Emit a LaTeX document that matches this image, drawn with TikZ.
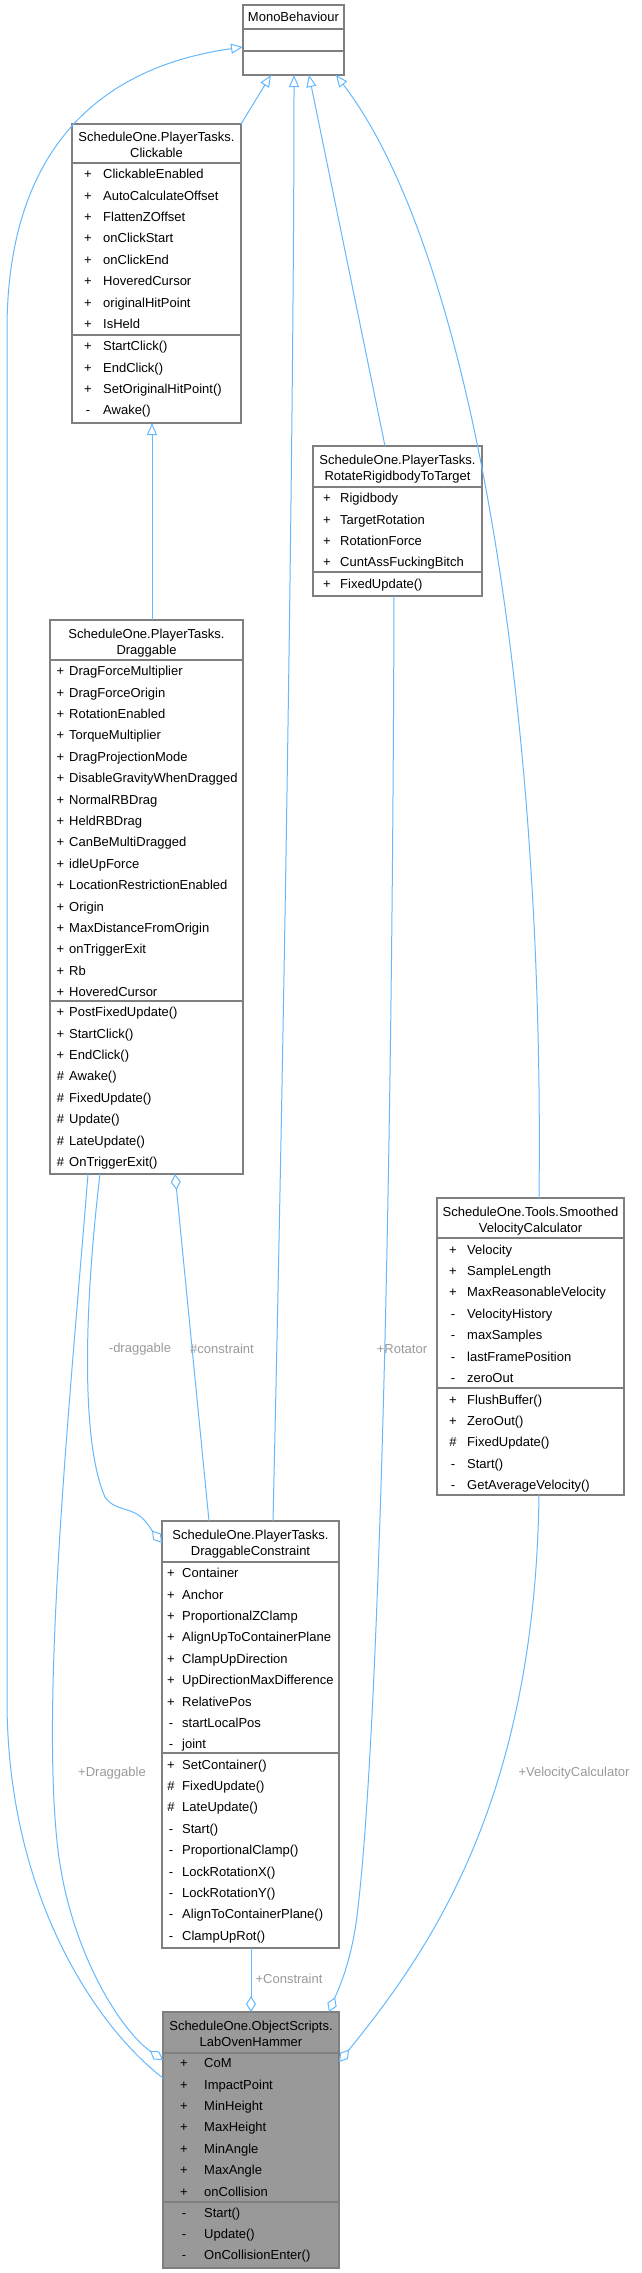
\documentclass[tikz,border=0pt]{standalone}
\usepackage{fontspec}
\setmainfont{Liberation Sans}
\usetikzlibrary{arrows.meta,calc}
\definecolor{edgec}{HTML}{63B8FF}
\definecolor{bord}{HTML}{7F7F7F}
\definecolor{hamfill}{HTML}{999999}
\definecolor{lblc}{HTML}{9A9A9A}
\newcommand\classrows[5]{%
  \foreach \s/\n [count=\i from 0] in {#5} {
    \node[symtxt] (#1s\i) at (#2, {#4+\i*21.4}) {\s};
    \node[nmtxt] (#1n\i) at (#3, {#4+\i*21.4}) {\n};
  }}
\begin{document}
\begin{tikzpicture}[x=1pt,y=-1pt,
  font=\fontsize{13}{16}\selectfont,
  cls/.style={draw=bord, line width=1.3pt, fill=white, inner sep=0pt, outer sep=0pt, anchor=north west},
  divline/.style={draw=bord, line width=1.3pt},
  symtxt/.style={inner sep=0pt, anchor=center, text height=9.3pt, text depth=0pt},
  nmtxt/.style={inner sep=0pt, anchor=west, text height=9.3pt, text depth=0pt},
  ttl/.style={inner sep=0pt, anchor=center, text height=9.3pt, text depth=0pt},
  edge/.style={draw=edgec, line width=1pt},
  inh/.style={edge, -{Triangle[open,length=12pt,width=10pt]}},
  agg/.style={edge, -{Diamond[open,length=16pt,width=10pt]}},
  lbl/.style={text=lblc, inner sep=0pt, text height=9.3pt, text depth=0pt}]
\useasboundingbox (0,0) rectangle (641,2273);

% MonoBehaviour
\node[cls, minimum width=101pt, minimum height=70pt] (mono) at (243,5) {};
\draw[divline] (243,29) -- (344,29);
\draw[divline] (243,51) -- (344,51);
\node[ttl] (monoT) at (293.5,17) {MonoBehaviour};

% Clickable
\node[cls, minimum width=169pt, minimum height=299pt] (click) at (72,124) {};
\draw[divline] (72,163) -- (241,163);
\draw[divline] (72,335) -- (241,335);
\node[ttl] (clickT1) at (156.5,137) {ScheduleOne.PlayerTasks.};
\node[ttl] (clickT2) at (156.5,153) {Clickable};
\classrows{clA}{88}{103}{174}{+/ClickableEnabled,+/AutoCalculateOffset,+/FlattenZOffset,+/onClickStart,+/onClickEnd,+/HoveredCursor,+/originalHitPoint,+/IsHeld}
\classrows{clM}{88}{103}{346}{+/StartClick(),+/EndClick(),+/SetOriginalHitPoint(),-/Awake()}

% RotateRigidbodyToTarget
\node[cls, minimum width=169pt, minimum height=150pt] (rot) at (313,446) {};
\draw[divline] (313,487) -- (482,487);
\draw[divline] (313,572) -- (482,572);
\node[ttl] (rotT1) at (397.5,460) {ScheduleOne.PlayerTasks.};
\node[ttl] (rotT2) at (397.5,476) {RotateRigidbodyToTarget};
\classrows{roA}{327}{340}{498}{+/Rigidbody,+/TargetRotation,+/RotationForce,+/CuntAssFuckingBitch}
\classrows{roM}{327}{340}{583.5}{+/FixedUpdate()}

% Draggable
\node[cls, minimum width=193pt, minimum height=554pt] (drag) at (50,620) {};
\draw[divline] (50,660) -- (243,660);
\draw[divline] (50,1001) -- (243,1001);
\node[ttl] (dragT1) at (146.5,633.5) {ScheduleOne.PlayerTasks.};
\node[ttl] (dragT2) at (146.5,649.5) {Draggable};
\classrows{drA}{60.5}{69}{671}{+/DragForceMultiplier,+/DragForceOrigin,+/RotationEnabled,+/TorqueMultiplier,+/DragProjectionMode,+/DisableGravityWhenDragged,+/NormalRBDrag,+/HeldRBDrag,+/CanBeMultiDragged,+/idleUpForce,+/LocationRestrictionEnabled,+/Origin,+/MaxDistanceFromOrigin,+/onTriggerExit,+/Rb,+/HoveredCursor}
\classrows{drM}{60.5}{69}{1012}{+/PostFixedUpdate(),+/StartClick(),+/EndClick(),\#/Awake(),\#/FixedUpdate(),\#/Update(),\#/LateUpdate(),\#/OnTriggerExit()}

% SmoothedVelocityCalculator
\node[cls, minimum width=187pt, minimum height=297pt] (svc) at (437,1198) {};
\draw[divline] (437,1238) -- (624,1238);
\draw[divline] (437,1388) -- (624,1388);
\node[ttl] (svcT1) at (530.5,1211.5) {ScheduleOne.Tools.Smoothed};
\node[ttl] (svcT2) at (530.5,1227.5) {VelocityCalculator};
\classrows{svA}{453}{467}{1249.5}{+/Velocity,+/SampleLength,+/MaxReasonableVelocity,-/VelocityHistory,-/maxSamples,-/lastFramePosition,-/zeroOut}
\classrows{svM}{453}{467}{1399.5}{+/FlushBuffer(),+/ZeroOut(),\#/FixedUpdate(),-/Start(),-/GetAverageVelocity()}

% DraggableConstraint
\node[cls, minimum width=177pt, minimum height=427pt] (dcon) at (162,1521) {};
\draw[divline] (162,1562) -- (339,1562);
\draw[divline] (162,1753) -- (339,1753);
\node[ttl] (dconT1) at (250.5,1535) {ScheduleOne.PlayerTasks.};
\node[ttl] (dconT2) at (250.5,1551) {DraggableConstraint};
\classrows{dcA}{171}{182}{1573}{+/Container,+/Anchor,+/ProportionalZClamp,+/AlignUpToContainerPlane,+/ClampUpDirection,+/UpDirectionMaxDifference,+/RelativePos,-/startLocalPos,-/joint}
\classrows{dcM}{171}{182}{1764.5}{+/SetContainer(),\#/FixedUpdate(),\#/LateUpdate(),-/Start(),-/ProportionalClamp(),-/LockRotationX(),-/LockRotationY(),-/AlignToContainerPlane(),-/ClampUpRot()}

% LabOvenHammer
\node[cls, fill=hamfill, minimum width=176pt, minimum height=256pt] (ham) at (163,2012) {};
\draw[divline] (163,2053) -- (339,2053);
\draw[divline] (163,2202) -- (339,2202);
\node[ttl] (hamT1) at (251,2026) {ScheduleOne.ObjectScripts.};
\node[ttl] (hamT2) at (251,2042) {LabOvenHammer};
\classrows{haA}{184}{204}{2063}{+/CoM,+/ImpactPoint,+/MinHeight,+/MaxHeight,+/MinAngle,+/MaxAngle,+/onCollision}
\classrows{haM}{184}{204}{2212.5}{-/Start(),-/Update(),-/OnCollisionEnter()}

% inheritance edges
\draw[inh] ([yshift=-66pt]ham.north west) .. controls (100,2030) and (7,1900) .. (7,1700) -- (7,330) .. controls (7,170) and (80,70) .. ([yshift=-42pt]mono.north west);
\draw[inh] (click.north east) -- ([xshift=28pt]mono.south west);
\draw[inh] ([xshift=111pt]dcon.north west) .. controls (285,1000) and (294,400) .. ([xshift=51pt]mono.south west);
\draw[inh] ([xshift=72pt]rot.north west) -- ([xshift=66pt]mono.south west);
\draw[inh] ([xshift=102pt]svc.north west) .. controls (545,700) and (470,250) .. ([xshift=93pt]mono.south west);
\draw[inh] ([xshift=102pt]drag.north west) -- ([xshift=80pt]click.south west);

% aggregation edges
\draw[agg] ([xshift=81pt]rot.south west) .. controls (392,1300) and (375,1800) .. (355,1930) .. controls (348,1970) and (338,1990) .. ([xshift=166pt]ham.north west);
\draw[agg] ([xshift=102pt]svc.south west) .. controls (535,1800) and (430,1950) .. ([yshift=-50pt]ham.north east);
\draw[agg] ([xshift=89pt]dcon.south west) -- ([xshift=88pt]ham.north west);
\draw[agg] ([xshift=38pt]drag.south west) .. controls (70,1400) and (40,1700) .. (58,1850) .. controls (70,1950) and (120,2030) .. ([yshift=-48pt]ham.north west);
\draw[agg] ([xshift=50pt]drag.south west) .. controls (85,1300) and (80,1440) .. (105,1497) .. controls (112,1508) and (125,1508) .. (135,1513) .. controls (145,1518) and (150,1528) .. ([yshift=-22pt]dcon.north west);
\draw[agg] ([xshift=47pt]dcon.north west) -- ([xshift=125pt]drag.south west);

% edge labels
\node[lbl] (l1) at (140,1348) {-draggable};
\node[lbl] (l2) at (222,1349) {\#constraint};
\node[lbl] (l3) at (402,1349) {+Rotator};
\node[lbl] (l4) at (112,1772) {+Draggable};
\node[lbl] (l5) at (574,1772) {+VelocityCalculator};
\node[lbl] (l6) at (289,1979) {+Constraint};
\end{tikzpicture}
\end{document}
